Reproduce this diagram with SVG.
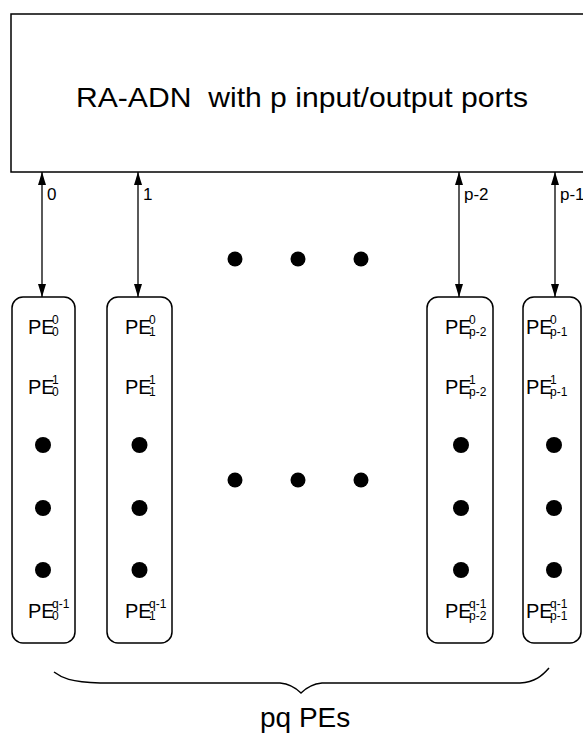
<svg xmlns="http://www.w3.org/2000/svg" width="583" height="738" viewBox="0 0 583 738">
<style>
text{font-family:"Liberation Sans",Arial,sans-serif;fill:#000}
.box{fill:#fff;stroke:#000;stroke-width:1.5}
.pe{font-size:20px}
.sc{font-size:12px}
.lbl{font-size:17px}
.dot{fill:#000}
.conn{stroke:#000;stroke-width:1.3;fill:none;marker-start:url(#ah);marker-end:url(#ah)}
</style>
<defs>
<marker id="ah" viewBox="0 0 13 8" refX="13" refY="4" markerWidth="13" markerHeight="8" markerUnits="userSpaceOnUse" orient="auto-start-reverse">
<path d="M0,0 L13,4 L0,8 Z" fill="#000"/>
</marker>
</defs>
<rect width="583" height="738" fill="#fff"/>

<g id="network">
<rect class="box" x="11" y="14" width="580" height="158"/>
<text x="76" y="107" font-size="28" textLength="452" lengthAdjust="spacingAndGlyphs" xml:space="preserve">RA-ADN  with p input/output ports</text>
</g>

<g id="connectors">
<line class="conn" x1="42" y1="172" x2="42" y2="297"/>
<line class="conn" x1="138" y1="172" x2="138" y2="297"/>
<line class="conn" x1="459" y1="172" x2="459" y2="297"/>
<line class="conn" x1="555" y1="172" x2="555" y2="297"/>
<text class="lbl" x="47" y="200">0</text>
<text class="lbl" x="143" y="200">1</text>
<text class="lbl" x="464" y="200">p-2</text>
<text class="lbl" x="560" y="200">p-1</text>
</g>

<g id="ellipsis-top">
<circle class="dot" cx="235" cy="259" r="7.5"/>
<circle class="dot" cx="298" cy="259" r="7.5"/>
<circle class="dot" cx="361" cy="259" r="7.5"/>
</g>
<g id="ellipsis-mid">
<circle class="dot" cx="235" cy="480" r="7.5"/>
<circle class="dot" cx="298" cy="480" r="7.5"/>
<circle class="dot" cx="361" cy="480" r="7.5"/>
</g>

<g id="col0">
<rect class="box" x="12" y="297" width="63" height="346" rx="11"/>
<text class="pe" x="28" y="334">PE<tspan class="sc" x="52" y="324">0</tspan><tspan class="sc" x="52" y="336">0</tspan></text>
<text class="pe" x="28" y="394">PE<tspan class="sc" x="52" y="384">1</tspan><tspan class="sc" x="52" y="396">0</tspan></text>
<circle class="dot" cx="43" cy="445" r="8"/>
<circle class="dot" cx="43" cy="508" r="8"/>
<circle class="dot" cx="43" cy="570" r="8"/>
<text class="pe" x="28" y="618">PE<tspan class="sc" x="52" y="608">q-1</tspan><tspan class="sc" x="52" y="620">0</tspan></text>
</g>

<g id="col1">
<rect class="box" x="107" y="297" width="65" height="346" rx="11"/>
<text class="pe" x="125" y="334">PE<tspan class="sc" x="149" y="324">0</tspan><tspan class="sc" x="149" y="336">1</tspan></text>
<text class="pe" x="125" y="394">PE<tspan class="sc" x="149" y="384">1</tspan><tspan class="sc" x="149" y="396">1</tspan></text>
<circle class="dot" cx="139.5" cy="445" r="8"/>
<circle class="dot" cx="139.5" cy="508" r="8"/>
<circle class="dot" cx="139.5" cy="570" r="8"/>
<text class="pe" x="125" y="618">PE<tspan class="sc" x="149" y="608">q-1</tspan><tspan class="sc" x="149" y="620">1</tspan></text>
</g>

<g id="col-p-2">
<rect class="box" x="427" y="297" width="66" height="346" rx="11"/>
<text class="pe" x="445" y="334">PE<tspan class="sc" x="469" y="324">0</tspan><tspan class="sc" x="469" y="336">p-2</tspan></text>
<text class="pe" x="445" y="394">PE<tspan class="sc" x="469" y="384">1</tspan><tspan class="sc" x="469" y="396">p-2</tspan></text>
<circle class="dot" cx="461" cy="445" r="8"/>
<circle class="dot" cx="461" cy="508" r="8"/>
<circle class="dot" cx="461" cy="570" r="8"/>
<text class="pe" x="445" y="618">PE<tspan class="sc" x="469" y="608">q-1</tspan><tspan class="sc" x="469" y="620">p-2</tspan></text>
</g>

<g id="col-p-1">
<rect class="box" x="523" y="297" width="58" height="346" rx="11"/>
<text class="pe" x="526" y="334">PE<tspan class="sc" x="550" y="324">0</tspan><tspan class="sc" x="550" y="336">p-1</tspan></text>
<text class="pe" x="526" y="394">PE<tspan class="sc" x="550" y="384">1</tspan><tspan class="sc" x="550" y="396">p-1</tspan></text>
<circle class="dot" cx="554" cy="445" r="8"/>
<circle class="dot" cx="554" cy="508" r="8"/>
<circle class="dot" cx="554" cy="570" r="8"/>
<text class="pe" x="526" y="618">PE<tspan class="sc" x="550" y="608">q-1</tspan><tspan class="sc" x="550" y="620">p-1</tspan></text>
</g>

<g id="brace">
<path d="M54,672 C62,678 70,682 100,683 L280,683 C290,684 296,688 301,693 C306,688 312,684 322,683 L520,683 C535,682 542,676 549,668" fill="none" stroke="#000" stroke-width="1.5"/>
<text x="260" y="727" font-size="28">pq PEs</text>
</g>
</svg>
